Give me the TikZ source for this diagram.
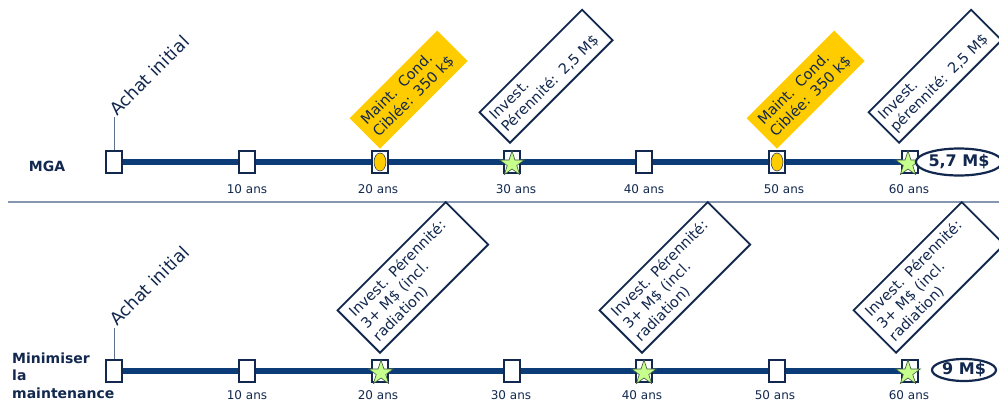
\documentclass[tikz,border=0pt]{standalone}
\usepackage{fontspec}
\setmainfont{DejaVu Sans}
\usetikzlibrary{shapes.geometric}
\pgfdeclarelayer{background}
\pgfsetlayers{background,main}

\definecolor{navy}{RGB}{18,40,78}
\definecolor{trackblue}{RGB}{12,60,120}
\definecolor{rulegray}{RGB}{132,150,176}
\definecolor{tickgray}{RGB}{95,112,140}
\definecolor{leafgreen}{RGB}{198,255,140}
\definecolor{starline}{RGB}{60,85,60}
\definecolor{gold}{RGB}{255,204,0}

\tikzset{
  every node/.style={text=navy},
  slot/.style={draw=navy, line width=1.8pt, fill=white, minimum width=16pt,
    minimum height=22pt, inner sep=0pt},
  coin/.style={ellipse, draw=navy, line width=0.5pt, fill=gold,
    minimum width=12pt, minimum height=18pt, inner sep=0pt},
  starmark/.style={star, star points=5, star point ratio=2.6, minimum size=26pt,
    inner sep=0pt, fill=leafgreen, draw=starline, line width=0.6pt},
  track/.style={draw=trackblue, line width=6pt},
  tick/.style={draw=tickgray, line width=1pt},
  boxtext/.style={font=\fontsize{14.5}{17}\selectfont, align=left},
  noteY/.style={boxtext, rotate=45, anchor=south west, fill=gold,
    minimum width=124pt, minimum height=43pt, text width=110pt, inner xsep=7pt,
    inner ysep=0pt},
  noteW/.style={boxtext, rotate=45, anchor=south west, fill=white, draw=navy,
    line width=1.8pt, minimum width=145pt, minimum height=43pt,
    text width=135pt, inner xsep=5pt, inner ysep=0pt},
  noteWL/.style={boxtext, rotate=45, anchor=south west, fill=white, draw=navy,
    line width=1.8pt, minimum width=153pt, minimum height=60pt,
    text width=139pt, inner xsep=7pt, inner ysep=0pt},
  achat/.style={rotate=45, anchor=base west, inner sep=0pt,
    font=\fontsize{17.5}{20}\selectfont},
  yearlbl/.style={anchor=base, inner sep=0pt, font=\fontsize{12}{14}\selectfont},
  rowtitle/.style={inner sep=0pt, font=\bfseries\fontsize{14}{17.5}\selectfont},
  total/.style={ellipse, draw=navy, line width=2.2pt, fill=white, inner sep=0pt,
    font=\bfseries\fontsize{16}{18}\selectfont},
}

\begin{document}
\begin{tikzpicture}[x=1pt,y=1pt]
\useasboundingbox (0,0) rectangle (999,-400);
\clip (0,0) rectangle (999,-400);

% separator between the two scenarios
\draw[draw=rulegray, line width=2pt] (8,-202) -- (999,-202);

% ---------------- scenario MGA ----------------
\node[rowtitle, anchor=base] (mga) at (47,-171) {MGA};

\node[slot] (a0) at (114,-162) {};
\node[slot] (a1) at (247,-162) {};
\node[slot] (a2) at (380,-162) {};
\node[slot] (a3) at (512,-162) {};
\node[slot] (a4) at (644,-162) {};
\node[slot] (a5) at (777,-162) {};
\node[slot] (a6) at (910,-162) {};
\begin{pgfonlayer}{background}
  \draw[track] (a0) -- (a6);
\end{pgfonlayer}

\node[coin] (ca2) at (380,-162) {};
\node[coin] (ca5) at (777,-162) {};
\node[starmark] (sa3) at (512,-164) {};
\node[starmark] (sa6) at (908,-164) {};

\coordinate (ta) at (114,-117);
\draw[tick] (a0.north) -- (ta);
\node[achat] (achatA) at (117,-117) {Achat initial};

\node[noteY] (na2) at (380,-149) {Maint. Cond.\\Ciblée: 350 k\$};
\node[noteW] (na3) at (510,-144) {Invest.\\Pérennité: 2,5 M\$};
\node[noteY] (na5) at (777,-149) {Maint. Cond.\\Ciblée: 350 k\$};
\node[noteW] (na6) at (899,-144) {Invest.\\pérennité: 2,5 M\$};

\node[total, minimum width=76pt, minimum height=27pt] (sumA) at (959,-162) {5,7 M\$};

\node[yearlbl] (ya1) at (247,-193) {10 ans};
\node[yearlbl] (ya2) at (378,-193) {20 ans};
\node[yearlbl] (ya3) at (516,-193) {30 ans};
\node[yearlbl] (ya4) at (644,-193) {40 ans};
\node[yearlbl] (ya5) at (784,-193) {50 ans};
\node[yearlbl] (ya6) at (909,-193) {60 ans};

% ---------------- scenario minimal maintenance ----------------
\node[rowtitle, anchor=north west, align=left] (minm) at (12,-352.5)
  {Minimiser\\la\\maintenance};

\node[slot] (b0) at (114,-371) {};
\node[slot] (b1) at (247,-371) {};
\node[slot] (b2) at (380,-371) {};
\node[slot] (b3) at (512,-371) {};
\node[slot] (b4) at (644,-371) {};
\node[slot] (b5) at (777,-371) {};
\node[slot] (b6) at (910,-371) {};
\begin{pgfonlayer}{background}
  \draw[track] (b0) -- (b6);
\end{pgfonlayer}

\node[starmark] (sb2) at (381,-373) {};
\node[starmark] (sb4) at (644,-373) {};
\node[starmark] (sb6) at (908,-373) {};

\coordinate (tb) at (114,-328);
\draw[tick] (b0.north) -- (tb);
\node[achat] (achatB) at (117,-327) {Achat initial};

\node[noteWL] (nb2) at (380,-354) {Invest. Pérennité:\\3+ M\$ (incl.\\radiation)};
\node[noteWL] (nb4) at (642,-354) {Invest. Pérennité:\\3+ M\$ (incl.\\radiation)};
\node[noteWL] (nb6) at (896,-354) {Invest. Pérennité:\\3+ M\$ (incl.\\radiation)};

\node[total, minimum width=64pt, minimum height=22pt] (sumB) at (964,-370) {9 M\$};

\node[yearlbl] (yb1) at (247,-399) {10 ans};
\node[yearlbl] (yb2) at (378,-399) {20 ans};
\node[yearlbl] (yb3) at (511,-399) {30 ans};
\node[yearlbl] (yb4) at (642,-399) {40 ans};
\node[yearlbl] (yb5) at (775,-399) {50 ans};
\node[yearlbl] (yb6) at (909,-399) {60 ans};
\end{tikzpicture}
\end{document}
